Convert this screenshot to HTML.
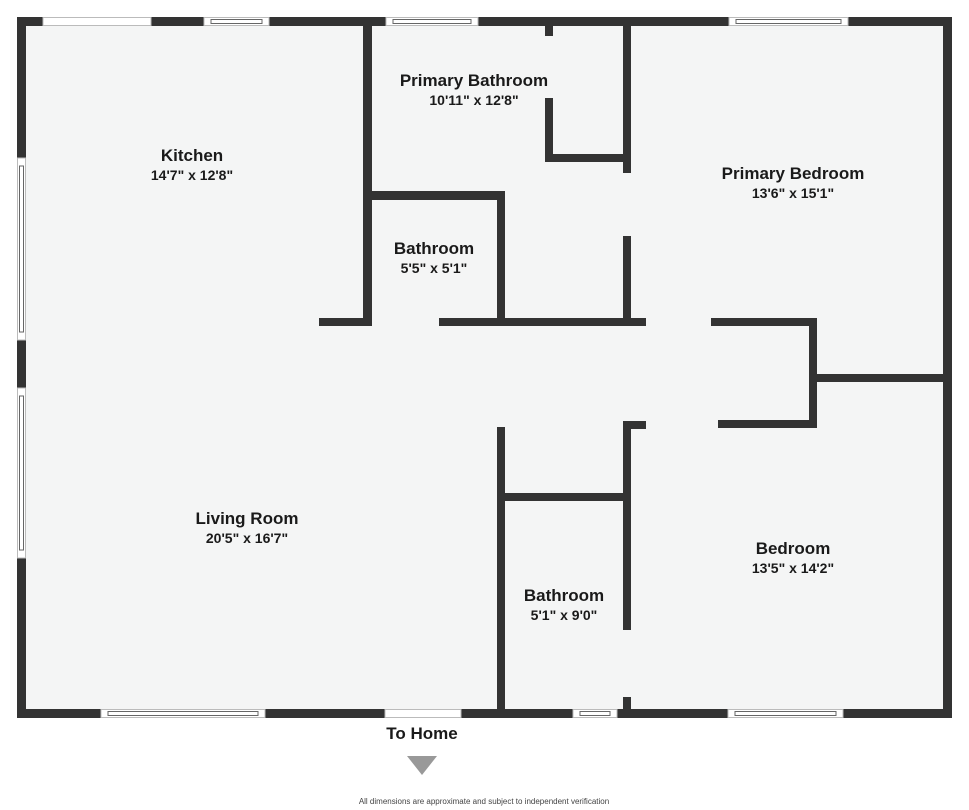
<!DOCTYPE html>
<html><head><meta charset="utf-8"><style>
html,body{margin:0;padding:0;background:#fff;width:969px;height:810px;overflow:hidden}
svg{display:block}
.t{font-family:"Liberation Sans",sans-serif;font-weight:bold;fill:#1a1a1a;text-anchor:middle}
.n{font-size:17px}.d{font-size:14px}
</style></head><body>
<svg width="969" height="810" viewBox="0 0 969 810">
<rect x="22" y="22" width="925" height="692" fill="#f4f5f5"/>
<g fill="#333">
<!-- outer walls -->
<rect x="17" y="17" width="935" height="9"/>
<rect x="17" y="709" width="935" height="9"/>
<rect x="17" y="17" width="9" height="701"/>
<rect x="943" y="17" width="9" height="701"/>
<!-- interior -->
<rect x="363" y="26" width="9" height="300"/>
<rect x="319" y="318" width="53" height="8"/>
<rect x="372" y="191" width="133" height="9"/>
<rect x="497" y="191" width="8" height="135"/>
<rect x="439" y="318" width="207" height="8"/>
<rect x="545" y="26" width="8" height="10"/>
<rect x="545" y="98" width="8" height="64"/>
<rect x="545" y="154" width="86" height="8"/>
<rect x="623" y="26" width="8" height="147"/>
<rect x="623" y="236" width="8" height="90"/>
<rect x="711" y="318" width="106" height="8"/>
<rect x="809" y="318" width="8" height="110"/>
<rect x="718" y="420" width="99" height="8"/>
<rect x="817" y="374" width="126" height="8"/>
<rect x="497" y="427" width="8" height="291"/>
<rect x="505" y="493" width="126" height="8"/>
<rect x="623" y="421" width="8" height="209"/>
<rect x="623" y="421" width="23" height="8"/>
<rect x="623" y="697" width="8" height="12"/>
</g>
<!-- openings -->
<g fill="#fff" stroke="#bbb" stroke-width="1">
<rect x="43" y="17.5" width="108" height="8"/>
<rect x="204" y="17.5" width="65" height="8"/>
<rect x="386" y="17.5" width="92" height="8"/>
<rect x="729" y="17.5" width="119" height="8"/>
<rect x="17.5" y="158" width="8" height="182"/>
<rect x="17.5" y="388" width="8" height="170"/>
<rect x="101" y="709.5" width="164" height="8"/>
<rect x="385" y="709.5" width="76" height="8"/>
<rect x="573" y="709.5" width="44" height="8"/>
<rect x="728" y="709.5" width="115" height="8"/>
</g>
<g stroke="#666" stroke-width="1" fill="none">
<rect x="211" y="19.5" width="51" height="4"/>
<rect x="393" y="19.5" width="78" height="4"/>
<rect x="736" y="19.5" width="105" height="4"/>
<rect x="19.5" y="166" width="4" height="166"/>
<rect x="19.5" y="396" width="4" height="154"/>
<rect x="108" y="711.5" width="150" height="4"/>
<rect x="580" y="711.5" width="30" height="4"/>
<rect x="735" y="711.5" width="101" height="4"/>
</g>
<text class="t n" x="192" y="161">Kitchen</text>
<text class="t d" x="192" y="180">14'7" x 12'8"</text>
<text class="t n" x="474" y="86">Primary Bathroom</text>
<text class="t d" x="474" y="105">10'11" x 12'8"</text>
<text class="t n" x="434" y="254">Bathroom</text>
<text class="t d" x="434" y="273">5'5" x 5'1"</text>
<text class="t n" x="793" y="179">Primary Bedroom</text>
<text class="t d" x="793" y="198">13'6" x 15'1"</text>
<text class="t n" x="247" y="524">Living Room</text>
<text class="t d" x="247" y="543">20'5" x 16'7"</text>
<text class="t n" x="793" y="554">Bedroom</text>
<text class="t d" x="793" y="573">13'5" x 14'2"</text>
<text class="t n" x="564" y="601">Bathroom</text>
<text class="t d" x="564" y="620">5'1" x 9'0"</text>
<text class="t" x="422" y="739" style="font-size:17px">To Home</text>
<polygon points="407,756 437,756 422,775" fill="#999"/>
<text x="484" y="804" style="font-family:'Liberation Sans',sans-serif;font-size:8px;fill:#444;text-anchor:middle">All dimensions are approximate and subject to independent verification</text>
</svg>
</body></html>
